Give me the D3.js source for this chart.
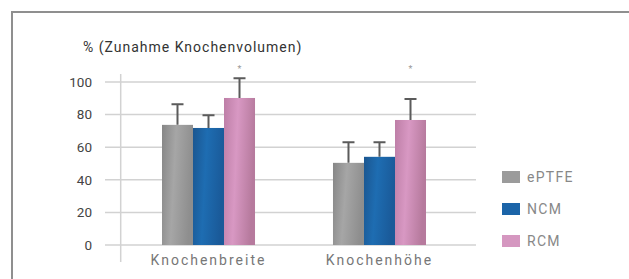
<!DOCTYPE html>
<html>
<head>
<meta charset="utf-8">
<script src="https://cdn.jsdelivr.net/npm/d3@7"></script>
<style>
  body { margin: 0; background: #fff; }
  svg { display: block; font-family: Roboto, "Liberation Sans", sans-serif; }
</style>
</head>
<body>
<div id="chart"></div>
<script>
const categories = ["Knochenbreite", "Knochenhöhe"];
const series = ["ePTFE", "NCM", "RCM"];
const values = {
    ePTFE: [73.7, 50.4],
    NCM: [71.8, 54.1],
    RCM: [90.2, 76.7]
};
const errors = {
    ePTFE: [12.6, 12.7],
    NCM: [7.8, 9.0],
    RCM: [12.1, 12.9]
};
const significant = ["RCM", "RCM"];
const yTicks = [0, 20, 40, 60, 80, 100];

const width = 629, height = 279;

const svg = d3.select("#chart")
    .append("svg")
    .attr("width", width)
    .attr("height", height);

// gradients for the shiny bars
const defs = svg.append("defs");
const gradStops = {
    ePTFE: ["#868686", "#a6a6a6", "#8e8e8e"],
    NCM: ["#1b5690", "#1e6db2", "#1a5a99"],
    RCM: ["#bd7ea6", "#d898c3", "#b67a9d"]
};
const legendColors = { ePTFE: "#9b9b9b", NCM: "#1b64a8", RCM: "#d597c0" };

series.forEach(s => {
    const g = defs.append("linearGradient")
        .attr("id", "grad-" + s)
        .attr("x1", "0%").attr("y1", "0%")
        .attr("x2", "100%").attr("y2", "20%");
    g.append("stop").attr("offset", "0%").attr("stop-color", gradStops[s][0]);
    g.append("stop").attr("offset", "45%").attr("stop-color", gradStops[s][1]);
    g.append("stop").attr("offset", "100%").attr("stop-color", gradStops[s][2]);
});

// frame
svg.append("path")
    .attr("d", `M12,${height + 5} L12,12 L${width + 5},12`)
    .attr("fill", "none")
    .attr("stroke", "#8f8f8f")
    .attr("stroke-width", 2);

const y = d3.scaleLinear()
    .domain([0, 100])
    .range([245, 82]);

const x = d3.scaleBand()
    .domain(categories)
    .range([120.7, 467.3])
    .paddingInner(0.456)
    .paddingOuter(0.2415);

const xSub = d3.scaleBand()
    .domain(series)
    .range([0, x.bandwidth()]);

// grid lines
svg.append("g")
    .selectAll("line")
    .data(yTicks)
    .enter().append("line")
    .attr("x1", 105)
    .attr("x2", 476)
    .attr("y1", d => y(d))
    .attr("y2", d => y(d))
    .attr("stroke", "#d2d2d2")
    .attr("stroke-width", 1.5);

// y axis line
svg.append("line")
    .attr("x1", 120.7).attr("x2", 120.7)
    .attr("y1", 74).attr("y2", 262)
    .attr("stroke", "#d2d2d2")
    .attr("stroke-width", 1.5);

// y tick labels
svg.append("g")
    .selectAll("text")
    .data(yTicks)
    .enter().append("text")
    .attr("x", 92)
    .attr("y", d => y(d))
    .attr("dy", "0.36em")
    .attr("text-anchor", "end")
    .style("font-size", "13.5px")
    .style("fill", "#444")
    .text(d => d);

// title
svg.append("text")
    .attr("x", 83)
    .attr("y", 52)
    .style("font-size", "14px")
    .style("fill", "#333")
    .style("letter-spacing", "1px")
    .text("% (Zunahme Knochenvolumen)");

// bars
const groups = svg.selectAll(".group")
    .data(categories)
    .enter().append("g")
    .attr("class", "group")
    .attr("transform", d => `translate(${x(d)},0)`);

groups.selectAll("rect")
    .data((d, i) => series.map(s => ({ s: s, v: values[s][i], e: errors[s][i] })))
    .enter().append("rect")
    .attr("x", d => xSub(d.s))
    .attr("y", d => y(d.v))
    .attr("width", xSub.bandwidth())
    .attr("height", d => y(0) - y(d.v))
    .attr("fill", d => `url(#grad-${d.s})`);

// error bars
groups.selectAll(".err")
    .data((d, i) => series.map(s => ({ s: s, v: values[s][i], e: errors[s][i] })))
    .enter().append("path")
    .attr("class", "err")
    .attr("d", d => {
        const cx = xSub(d.s) + xSub.bandwidth() / 2;
        const top = y(d.v + d.e);
        return `M${cx},${y(d.v)} L${cx},${top} M${cx - 6},${top} L${cx + 6},${top}`;
    })
    .attr("fill", "none")
    .attr("stroke", "#5b5b5b")
    .attr("stroke-width", 2);

// significance stars
groups.append("text")
    .attr("x", (d, i) => xSub(significant[i]) + xSub.bandwidth() / 2)
    .attr("y", 72)
    .attr("text-anchor", "middle")
    .style("font-size", "9px")
    .style("fill", "#999")
    .text("*");

// x labels
svg.append("g")
    .selectAll("text")
    .data(categories)
    .enter().append("text")
    .attr("x", d => x(d) + x.bandwidth() / 2)
    .attr("y", 265)
    .attr("text-anchor", "middle")
    .style("font-size", "14px")
    .style("letter-spacing", "2px")
    .style("fill", "#777")
    .text(d => d);

// legend
const legend = svg.selectAll(".legend")
    .data(series)
    .enter().append("g")
    .attr("class", "legend")
    .attr("transform", (d, i) => `translate(502,${171 + i * 32})`);

legend.append("rect")
    .attr("width", 18)
    .attr("height", 12)
    .attr("fill", d => legendColors[d]);

legend.append("text")
    .attr("x", 25)
    .attr("y", 6)
    .attr("dy", "0.38em")
    .style("font-size", "14px")
    .style("letter-spacing", "1.3px")
    .style("fill", "#888")
    .text(d => d);
</script>
</body>
</html>
